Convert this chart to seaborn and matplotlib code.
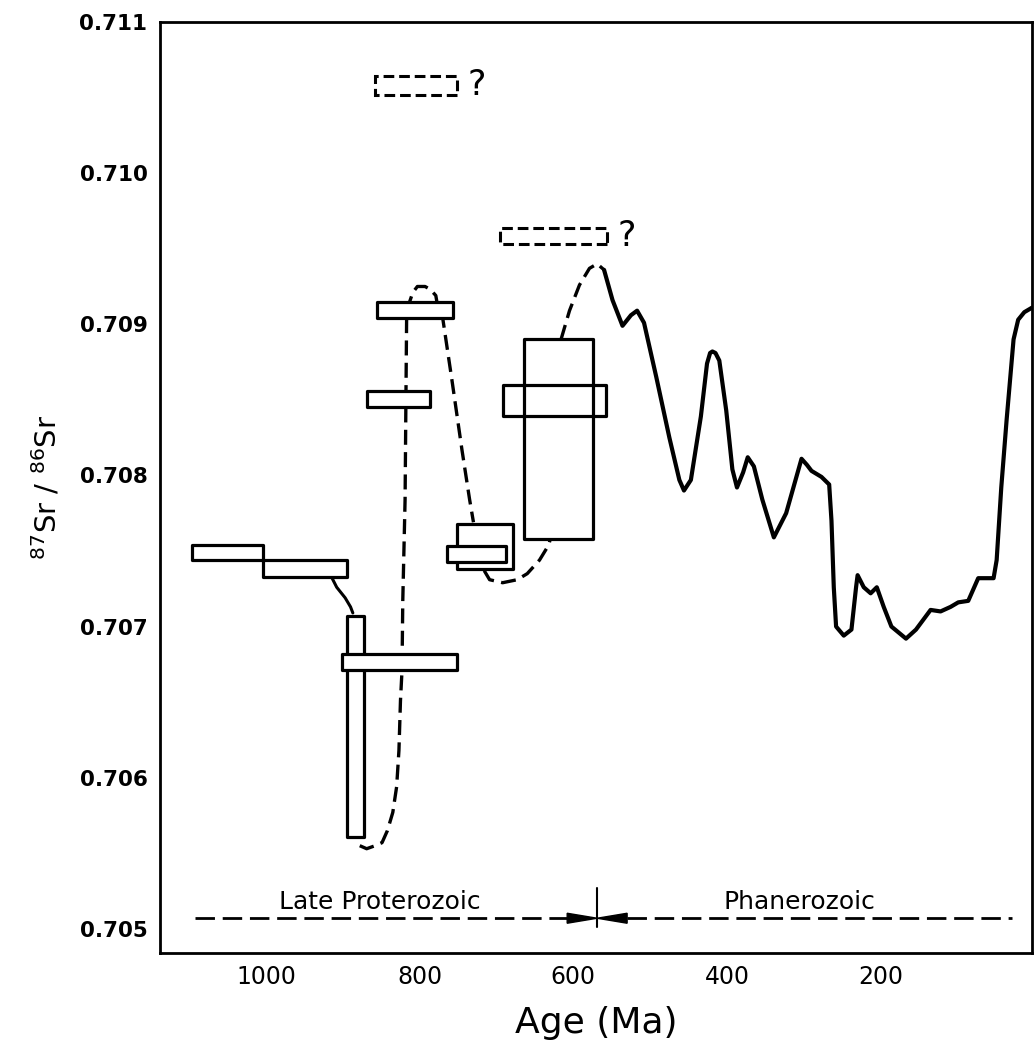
import matplotlib
matplotlib.use("Agg")
import matplotlib.pyplot as plt
from matplotlib.patches import Rectangle, Polygon
import pandas as pd
import seaborn as sns

# ---------------- data (age in Ma, 87Sr/86Sr) ----------------
# Phanerozoic seawater curve (solid line)
phan_age = [560, 549, 536, 525, 517, 508, 492, 475, 462, 456, 447, 434, 426, 422, 419,
            415, 410, 401, 393, 387, 379, 373, 365, 354, 339, 323, 303, 296, 290, 277,
            267, 264, 261, 258, 248, 238, 232, 230, 222, 213, 205, 196, 186, 167,
            154, 135, 122, 109, 99, 86, 73, 53, 49, 43, 36, 27, 21, 13, 3]
phan_sr = [0.70936, 0.70916, 0.70899, 0.70906, 0.70909, 0.70901, 0.70865, 0.70825,
           0.70797, 0.70790, 0.70797, 0.70839, 0.70874, 0.70881, 0.70882, 0.70881,
           0.70876, 0.70843,
           0.70804, 0.70792, 0.70802, 0.70812, 0.70806, 0.70784, 0.70759, 0.70775,
           0.70811, 0.70807, 0.70803, 0.70799, 0.70794, 0.70770, 0.70726, 0.70700,
           0.70694, 0.70698, 0.70726, 0.70734, 0.70726, 0.70722, 0.70726, 0.70713,
           0.70700, 0.70692, 0.70698, 0.70711, 0.70710, 0.70713, 0.70716, 0.70717,
           0.70732, 0.70732, 0.70744, 0.70792, 0.70837, 0.70890, 0.70903, 0.70908,
           0.70911]

# Late Proterozoic inferred trend (dashed) segments
trend1_age = [878, 869, 858, 849, 842, 835, 830, 827, 825, 823, 822, 819, 818, 817,
              813, 809, 803, 793, 786, 779, 777, 770, 758, 745, 735, 730]
trend1_sr = [0.70555, 0.70553, 0.70555, 0.70557, 0.70565, 0.70577, 0.70594, 0.70618,
             0.70651, 0.70671, 0.70717, 0.70784, 0.70845, 0.70904, 0.70915, 0.70921,
             0.70925, 0.70925, 0.70923, 0.70919, 0.70913, 0.70904, 0.70863, 0.70817,
             0.70784, 0.70769]
trend2_age = [716, 709, 692, 673, 660, 644, 632, 630]
trend2_sr = [0.70737, 0.70731, 0.70729, 0.70731, 0.70735, 0.70744, 0.70754, 0.70758]
trend3_age = [616, 605, 592, 579, 569, 560]
trend3_sr = [0.70890, 0.70909, 0.70926, 0.70937, 0.70940, 0.70936]

# short solid link between boxes
link_age = [914, 908, 897, 890, 887]
link_sr = [0.70732, 0.70726, 0.70719, 0.70713, 0.70709]

# data boxes: age range (old -> young) and Sr range
box_old = [1096, 1004, 895, 901, 869, 856, 752, 765, 664, 692]
box_young = [1004, 894, 873, 752, 786, 756, 679, 688, 575, 557]
box_lo = [0.70744, 0.70733, 0.70561, 0.70671, 0.70845, 0.70904, 0.70738, 0.70743,
          0.70758, 0.70839]
box_hi = [0.70754, 0.70744, 0.70707, 0.70682, 0.70856, 0.70915, 0.70768, 0.70753,
          0.70890, 0.70860]

# questionable (dashed) boxes
q_old = [858, 695]
q_young = [752, 556]
q_lo = [0.71052, 0.70953]
q_hi = [0.71064, 0.70964]

# era boundary annotation
era_boundary = 569
era_line_sr = 0.70507
era_left_end = 1092
era_right_end = 29
era_labels = ["Late Proterozoic", "Phanerozoic"]
era_label_age = [852, 306]
era_label_sr = 0.70518

x_ticks = [1000, 800, 600, 400, 200]
y_ticks = [0.705, 0.706, 0.707, 0.708, 0.709, 0.710, 0.711]

# ---------------- plotting ----------------
sns.set_style("white")
plt.rcParams["font.family"] = ["DejaVu Sans"]
plt.rcParams.update({"text.color": "black", "axes.labelcolor": "black",
                     "xtick.color": "black", "ytick.color": "black"})

fig = plt.figure(figsize=(10.36, 10.56), dpi=100)
ax = fig.add_axes([160 / 1036, 103 / 1056, (1032 - 160) / 1036, (1034 - 103) / 1056])

LW_CURVE = 3.0
LW_BOX = 2.3
dash = (0, (4.5, 2.2))

sns.lineplot(x=phan_age, y=phan_sr, sort=False, estimator=None, color="black",
             lw=LW_CURVE, ax=ax, zorder=2, solid_joinstyle="round",
             solid_capstyle="round")
for a, s in [(trend1_age, trend1_sr), (trend2_age, trend2_sr), (trend3_age, trend3_sr)]:
    sns.lineplot(x=a, y=s, sort=False, estimator=None, color="black", lw=2.4,
                 linestyle=dash, ax=ax, zorder=2)
sns.lineplot(x=link_age, y=link_sr, sort=False, estimator=None, color="black",
             lw=2.2, ax=ax, zorder=2)

n_box = len(box_old)
for i in range(n_box):
    last = i == n_box - 1
    r = Rectangle((box_young[i], box_lo[i]), box_old[i] - box_young[i],
                  box_hi[i] - box_lo[i], facecolor="none" if last else "white",
                  edgecolor="black", lw=LW_BOX, joinstyle="round", zorder=3 + i * 0.1)
    ax.add_patch(r)

for i in range(len(q_old)):
    r = Rectangle((q_young[i], q_lo[i]), q_old[i] - q_young[i], q_hi[i] - q_lo[i],
                  facecolor="none", edgecolor="black", lw=2.2,
                  linestyle=(0, (3.5, 1.6)), zorder=3)
    ax.add_patch(r)
    ax.text(q_young[i] - 14, (q_lo[i] + q_hi[i]) / 2, "?", fontsize=25,
            ha="left", va="center", color="black")

# era annotation
ah = 0.000033
aw = 39
ax.plot([era_left_end, era_boundary + aw], [era_line_sr] * 2, color="black", lw=2.0,
        linestyle=(0, (7, 2.8)))
ax.plot([era_boundary - aw, era_right_end], [era_line_sr] * 2, color="black", lw=2.0,
        linestyle=(0, (7, 2.8)))
ax.add_patch(Polygon([[era_boundary + aw, era_line_sr + ah],
                      [era_boundary + aw, era_line_sr - ah],
                      [era_boundary, era_line_sr]], closed=True, color="black"))
ax.add_patch(Polygon([[era_boundary - aw, era_line_sr + ah],
                      [era_boundary - aw, era_line_sr - ah],
                      [era_boundary, era_line_sr]], closed=True, color="black"))
ax.plot([era_boundary, era_boundary], [0.70501, 0.70527], color="black", lw=1.5)
for lab, a in zip(era_labels, era_label_age):
    ax.text(a, era_label_sr, lab, fontsize=18, ha="center", va="center")

ax.set_xlim(1138, 3)
ax.set_ylim(0.70484, 0.711)
ax.set_xticks(x_ticks)
ax.set_xticklabels([str(t) for t in x_ticks], fontsize=17)
ax.set_yticks(y_ticks)
ax.set_yticklabels([f"{t:.3f}" for t in y_ticks], fontsize=15.5, fontweight="bold")
ax.tick_params(direction="in", length=8, width=2, pad=9)
for sp in ax.spines.values():
    sp.set_linewidth(2.0)
    sp.set_color("black")

ax.set_xlabel("Age (Ma)", fontsize=26, labelpad=12)
ax.set_ylabel(r"$^{87}$Sr / $^{86}$Sr", fontsize=21, labelpad=12)

fig.savefig("out.png", dpi=100)
